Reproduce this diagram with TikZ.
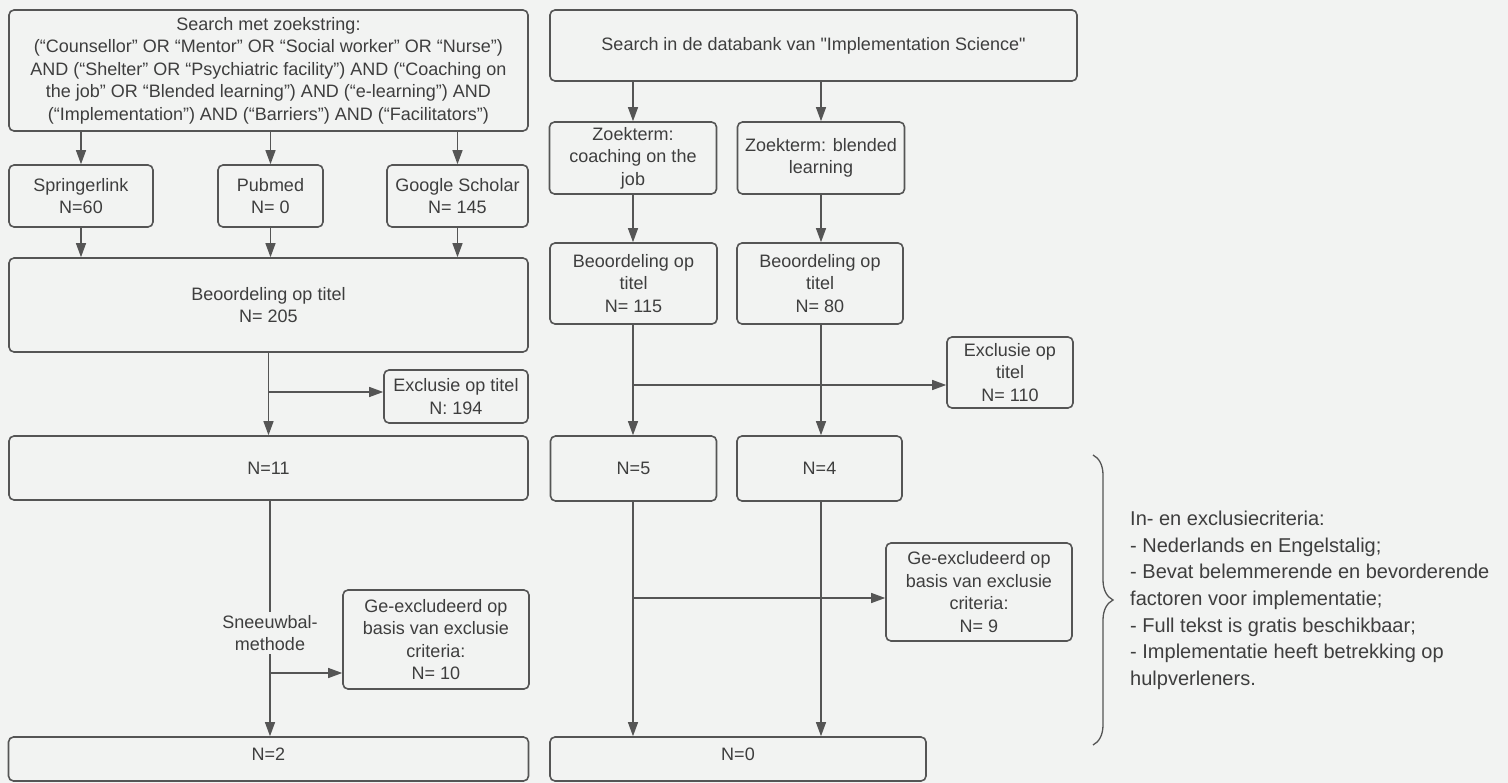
\documentclass[tikz,border=0pt]{standalone}
\usepackage{fontspec}
\setmainfont{Liberation Sans}
\usetikzlibrary{arrows.meta,decorations.pathreplacing}
\definecolor{bgcol}{RGB}{242,243,242}
\definecolor{linecol}{RGB}{85,85,85}
\definecolor{txtcol}{RGB}{62,62,62}
\newcommand\straightq{\XeTeXglyph\the\XeTeXcharglyph"22\relax}
\begin{document}
\begin{tikzpicture}[x=1pt,y=-1pt,
    box/.style={draw=linecol,line width=1.6pt,rounded corners=5pt,align=center,
        text=txtcol,font=\fontsize{18}{22.5}\selectfont,inner sep=2pt},
    arr/.style={draw=linecol,line width=1.2pt,-{Triangle[length=14pt,width=10pt]}},
    ln/.style={draw=linecol,line width=1.2pt}]
        \fill[bgcol] (0,0) rectangle (1508,783);
        \useasboundingbox (0,0) rectangle (1508,783);
        % linker kolom
        \node[box,minimum width=519pt,minimum height=121pt] (query) at (268.5,70.5)
            {Search met zoekstring:\\(“Counsellor” OR “Mentor” OR “Social worker” OR “Nurse”)\\AND (“Shelter” OR “Psychiatric facility”) AND (“Coaching on\\the job” OR “Blended learning”) AND (“e-learning”) AND\\(“Implementation”) AND (“Barriers”) AND (“Facilitators”)};
        \node[box,minimum width=144pt,minimum height=62pt] (springer) at (81,196) {Springerlink\\N=60};
        \node[box,minimum width=105pt,minimum height=62pt] (pubmed) at (270.5,196) {Pubmed\\N= 0};
        \node[box,minimum width=141pt,minimum height=62pt] (scholar) at (457.5,196) {Google Scholar\\N= 145};
        \node[box,minimum width=519pt,minimum height=94pt] (titelL) at (268.5,305) {Beoordeling op titel\\N= 205};
        \node[box,minimum width=144pt,minimum height=53pt] (exclL) at (456,396.5) {Exclusie op titel\\N: 194};
        \node[box,minimum width=519pt,minimum height=64pt] (n11) at (268.5,468) {N=11};
        \node[text=txtcol,font=\fontsize{18}{22.5}\selectfont,align=center,inner sep=3pt] (snow) at (270,633) {Sneeuwbal-\\methode};
        \node[box,minimum width=186pt,minimum height=99pt] (gexL) at (436,639.5) {Ge-excludeerd op\\basis van exclusie\\criteria:\\N= 10};
        \node[box,minimum width=520pt,minimum height=44pt,text depth=10pt] (n2) at (268.5,759) {N=2};
        % rechter kolom
        \node[box,minimum width=527pt,minimum height=71pt] (isci) at (813.5,45.5) {Search in de databank van \straightq Implementation Science\straightq};
        \node[box,minimum width=167pt,minimum height=72pt] (coach) at (633,158) {Zoekterm:\\coaching on the\\job};
        \node[box,minimum width=167pt,minimum height=72pt] (blend) at (821,158) {Zoekterm: blended\\learning};
        \node[box,minimum width=167pt,minimum height=81pt] (titelC) at (633.5,283.5) {Beoordeling op\\titel\\N= 115};
        \node[box,minimum width=166pt,minimum height=81pt] (titelB) at (820,283.5) {Beoordeling op\\titel\\N= 80};
        \node[box,minimum width=126pt,minimum height=71pt] (exclR) at (1010,372.5) {Exclusie op\\titel\\N= 110};
        \node[box,minimum width=166pt,minimum height=65pt] (n5) at (633.5,468.5) {N=5};
        \node[box,minimum width=165pt,minimum height=65pt] (n4) at (819.5,468.5) {N=4};
        \node[box,minimum width=186pt,minimum height=98pt] (gexR) at (979,592) {Ge-excludeerd op\\basis van exclusie\\criteria:\\N= 9};
        \node[box,minimum width=376pt,minimum height=44pt,text depth=10pt] (n0) at (738,759) {N=0};
        % verbindingen links
        \draw[arr] (query.south -| springer.north) -- (springer.north);
        \draw[arr] (query.south -| pubmed.north) -- (pubmed.north);
        \draw[arr] (query.south -| scholar.north) -- (scholar.north);
        \draw[arr] (springer.south) -- (springer.south |- titelL.north);
        \draw[arr] (pubmed.south) -- (pubmed.south |- titelL.north);
        \draw[arr] (scholar.south) -- (scholar.south |- titelL.north);
        \draw[arr] (titelL.south) -- (n11.north);
        \coordinate (splitL) at (268.5,392);
        \draw[arr] (splitL) -- (splitL -| exclL.west);
        \draw[ln] (n11.south -| snow.north) -- (snow.north);
        \draw[arr] (snow.south) -- (snow.south |- n2.north);
        \coordinate (snowL) at (270,673);
        \draw[arr] (snowL) -- (snowL -| gexL.west);
        % verbindingen rechts
        \draw[arr] (isci.south -| coach.north) -- (coach.north);
        \draw[arr] (isci.south -| blend.north) -- (blend.north);
        \draw[arr] (coach.south) -- (coach.south |- titelC.north);
        \draw[arr] (blend.south) -- (blend.south |- titelB.north);
        \draw[arr] (titelC.south -| coach.south) -- (coach.south |- n5.north);
        \draw[arr] (titelB.south -| blend.south) -- (blend.south |- n4.north);
        \coordinate (splitR) at (633,385);
        \draw[arr] (splitR) -- (splitR -| exclR.west);
        \draw[arr] (n5.south -| coach.south) -- (coach.south |- n0.north);
        \draw[arr] (n4.south -| blend.south) -- (blend.south |- n0.north);
        \coordinate (splitG) at (633,598);
        \draw[arr] (splitG) -- (splitG -| gexR.west);
        % criteria
        \draw[linecol,line width=1.3pt,decorate,decoration={brace,amplitude=20pt}] (1093,455) -- (1093,745);
        \node[anchor=north west,align=left,inner sep=0pt,text=txtcol,font=\fontsize{20}{26.6}\selectfont] (crit) at (1130,511)
            {In- en exclusiecriteria:\\- Nederlands en Engelstalig;\\- Bevat belemmerende en bevorderende\\factoren voor implementatie;\\- Full tekst is gratis beschikbaar;\\- Implementatie heeft betrekking op\\hulpverleners.};
\end{tikzpicture}
\end{document}
